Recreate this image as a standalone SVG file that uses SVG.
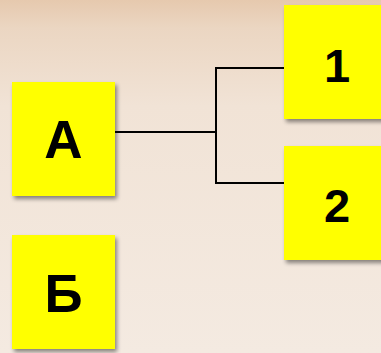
<svg xmlns="http://www.w3.org/2000/svg" width="381" height="353" viewBox="0 0 381 353">
<defs>
<linearGradient id="bg" x1="0" y1="0" x2="0" y2="1">
<stop offset="0" stop-color="#e6c9ae"/>
<stop offset="0.08" stop-color="#ebd6c2"/>
<stop offset="0.3" stop-color="#f1e3d6"/>
<stop offset="1" stop-color="#f4eae1"/>
</linearGradient>
<filter id="sh" x="-20%" y="-20%" width="140%" height="140%">
<feGaussianBlur in="SourceAlpha" stdDeviation="2"/>
<feOffset dx="2" dy="3" result="b"/>
<feComponentTransfer><feFuncA type="linear" slope="0.45"/></feComponentTransfer>
<feMerge><feMergeNode/><feMergeNode in="SourceGraphic"/></feMerge>
</filter>
</defs>
<style>
.box{fill:#ffff00;filter:url(#sh)}
.lbl{font-family:"Liberation Sans",Arial,sans-serif;font-weight:bold;font-size:53px;fill:#000;text-anchor:middle}
.num{font-family:"Liberation Sans",Arial,sans-serif;font-weight:bold;font-size:47px;fill:#000;text-anchor:middle}
.con{fill:none;stroke:#000;stroke-width:2}
</style>
<rect width="381" height="353" fill="url(#bg)"/>
<g id="connectors">
<path class="con" d="M115 132H216M284 68H216V183H284"/>
</g>
<g id="nodeA">
<rect class="box" x="12" y="82" width="103" height="114"/>
<text class="lbl" x="63.5" y="158">A</text>
</g>
<g id="nodeB">
<rect class="box" x="12" y="235" width="103" height="114"/>
<text class="lbl" x="63.5" y="312">Б</text>
</g>
<g id="node1">
<rect class="box" x="284" y="5" width="105" height="114"/>
<text class="num" x="337" y="82">1</text>
</g>
<g id="node2">
<rect class="box" x="284" y="146" width="105" height="114"/>
<text class="num" x="337" y="222">2</text>
</g>
</svg>
